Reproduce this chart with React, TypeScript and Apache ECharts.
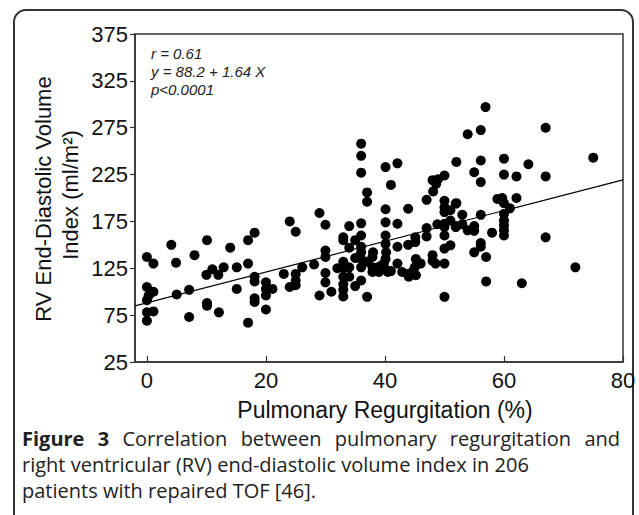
import React, { useEffect, useRef } from "react";
import * as echarts from "echarts";

const xTicks = [0, 20, 40, 60, 80];
const fitIntercept = 88.2;
const fitSlope = 1.64;
const statLines = ["r = 0.61", "y = 88.2 + 1.64 X", "p<0.0001"];

const captionLine1 = [
  { w: "Figure", bold: true },
  { w: "3", bold: true },
  { w: "Correlation", bold: false },
  { w: "between", bold: false },
  { w: "pulmonary", bold: false },
  { w: "regurgitation", bold: false },
  { w: "and", bold: false },
];
const captionLine2 = "right ventricular (RV) end-diastolic volume index in 206";
const captionLine3 = "patients with repaired TOF [46].";

const prValues = [
  0, 1.1, 0, 0.3, 0, 1.1, 0, 1.1, 0,
  4.1, 4.9, 5, 7.1, 7.1, 8, 10.1, 10, 11, 12, 12.9, 10.1, 10.1, 12.1, 14, 15.1, 15.1,
  17, 18.1, 17, 18.1, 18.1, 18.1, 18.1, 17, 20, 20, 20, 21.1, 20,
  23, 24, 25, 24, 25, 25, 25, 26.1, 28.1, 29, 29,
  30, 30, 30, 30, 30, 31, 32,
  33, 33, 33, 33, 33, 33, 33, 33,
  34, 34, 34, 34,
  35, 35, 35,
  36, 36, 36, 36, 36, 36, 36, 36, 36, 36,
  37, 37, 37, 37, 37.9, 37.9, 37.9, 38, 38.2,
  38.8, 39.4, 39, 39.8, 40.1, 40.5, 40.1,
  40.1, 40.1, 40.1, 40.1, 40.1, 40.2, 41, 41,
  42.1, 42.1, 42.1, 42.1,
  42.9, 43.8, 44.6, 45.2, 45, 45.2, 45.4, 43.9, 43.9, 45.1, 45.1, 46, 44,
  47, 47, 47, 48.1, 48, 48, 48.5, 48, 48.6, 48.9, 48.8,
  50, 50, 50, 50, 50, 50, 50, 50, 50, 50,
  51, 51, 51, 51.9, 51.9, 52, 52, 52,
  53, 53, 53.9, 53.9, 55, 55, 55, 55, 56.1, 56.1, 56.1, 56.1, 56.1, 56.1, 56.9, 57, 57, 58,
  58.9, 59.7, 60, 60, 60, 60, 60, 60, 60, 60, 61, 62.1, 62.1, 63, 64.1,
  67, 67, 67, 72, 75,
];

const rvedvValues = [
  137, 130, 105, 96, 91, 100, 78, 79, 69,
  150, 131, 97, 102, 73, 139, 155, 118, 124, 118, 126, 88, 85, 78, 147, 126, 103,
  155, 163, 130, 116, 111, 93, 89, 67, 110, 103, 96, 103, 81,
  119, 175, 164, 105, 107, 112, 119, 126, 129, 184, 96,
  171.5, 144, 137, 120, 110, 100, 125,
  158, 155, 132, 125, 116, 108, 102, 95,
  170, 147, 126, 116,
  155, 136, 106,
  258, 245, 227, 173, 160, 148, 142, 135, 126, 112,
  206, 196, 94.5, 132, 137, 126, 121, 142, 125,
  126, 128, 121, 130, 124, 121, 135,
  233, 188, 174, 160, 151, 142, 214, 122,
  237, 172.5, 148, 130,
  121, 119, 121, 117.6, 126, 135, 130, 188.5, 150, 158, 153, 130, 116,
  198, 168, 159, 207, 139, 133, 130, 219, 215, 220, 172,
  224, 197, 190, 185, 169, 160, 146, 130, 94.5, 172.5,
  187, 176, 149.5, 194, 169, 238.5, 194.5, 170,
  182, 172, 268, 165.5, 227.5, 170, 165, 142, 272.5, 240, 217, 182, 152, 148, 297, 137, 111, 163,
  199, 200, 194.5, 242, 225, 183, 176, 171, 165.5, 160, 189, 223, 200, 109, 236,
  275, 223, 158, 126, 243,
];

const xMin = -2;
const xMax = 80;

const capFont = "'Open Sans', sans-serif";
const capSize = 20;

function measure(text: string, bold: boolean) {
  const c = document.createElement("canvas").getContext("2d");
  if (!c) return text.length * 9;
  c.font = `${bold ? "bold " : ""}${capSize}px 'Open Sans', sans-serif`;
  return c.measureText(text).width;
}

export default function App() {
  const ref = useRef<HTMLDivElement>(null);
  useEffect(() => {
    if (!ref.current) return;
    const chart = echarts.init(ref.current, null, { renderer: "svg" });
    const points = prValues.map((x, i) => [x, rvedvValues[i]]);
    const fit = [xMin, xMax].map((x) => [x, fitIntercept + fitSlope * x]);
    const font = "'Liberation Sans', Arial, sans-serif";

    const capLeft = 22;
    const capRight = 620;
    const widths = captionLine1.map((o) => measure(o.w, o.bold));
    const total = widths.reduce((a, b) => a + b, 0);
    const gap = (capRight - capLeft - total) / (captionLine1.length - 1);
    let cx = capLeft;
    const line1Graphics = captionLine1.map((o, i) => {
      const g = {
        type: "text",
        x: cx,
        y: 438,
        style: {
          text: o.w,
          fontFamily: capFont,
          fontSize: capSize,
          fontWeight: o.bold ? "bold" : "normal",
          fill: "#222",
          textVerticalAlign: "middle",
        },
      };
      cx += widths[i] + gap;
      return g;
    });

    chart.setOption({
      animation: false,
      backgroundColor: "#ffffff",
      grid: {
        left: 135,
        right: 16,
        top: 34,
        bottom: 153,
        show: true,
        borderColor: "#333",
        borderWidth: 1.5,
        backgroundColor: "transparent",
      },
      xAxis: {
        type: "value",
        min: xMin,
        max: xMax,
        splitLine: { show: false },
        axisLine: { onZero: false, lineStyle: { color: "#333", width: 1.5 } },
        axisTick: {
          show: true,
          inside: true,
          length: 6,
          customValues: xTicks,
          lineStyle: { color: "#333", width: 1.2 },
        },
        axisLabel: {
          customValues: xTicks,
          fontFamily: font,
          fontSize: 22,
          color: "#111",
          margin: 7,
        },
      },
      yAxis: {
        type: "value",
        min: 25,
        max: 375,
        interval: 50,
        splitLine: { show: false },
        axisLine: { show: true, onZero: false, lineStyle: { color: "#333", width: 1.5 } },
        axisTick: { show: true, inside: false, length: 5, lineStyle: { color: "#333", width: 1.2 } },
        axisLabel: { fontFamily: font, fontSize: 22, color: "#111", margin: 7 },
      },
      series: [
        {
          type: "scatter",
          data: points,
          symbol: "circle",
          symbolSize: 10,
          itemStyle: { color: "#000", opacity: 1 },
          z: 3,
        },
        {
          type: "line",
          data: fit,
          symbol: "none",
          lineStyle: { color: "#000", width: 1.2 },
          z: 2,
        },
      ],
      graphic: [
        {
          type: "rect",
          shape: { x: 14, y: 10, width: 619, height: 540, r: 12 },
          style: { fill: "none", stroke: "#333", lineWidth: 2 },
          silent: true,
        },
        ...statLines.map((t, i) => ({
          type: "text",
          x: 151,
          y: 53 + i * 18,
          style: {
            text: t,
            fontFamily: font,
            fontStyle: "italic",
            fontSize: 15,
            fill: "#222",
            textVerticalAlign: "middle",
          },
        })),
        {
          type: "text",
          x: 43,
          y: 199,
          rotation: Math.PI / 2,
          style: {
            text: "RV End-Diastolic Volume",
            fontFamily: font,
            fontSize: 22,
            fill: "#111",
            textAlign: "center",
            textVerticalAlign: "middle",
          },
        },
        {
          type: "text",
          x: 70,
          y: 195,
          rotation: Math.PI / 2,
          style: {
            text: "Index (ml/m²)",
            fontFamily: font,
            fontSize: 22,
            fill: "#111",
            textAlign: "center",
            textVerticalAlign: "middle",
          },
        },
        {
          type: "text",
          x: 385,
          y: 410,
          style: {
            text: "Pulmonary Regurgitation (%)",
            fontFamily: font,
            fontSize: 23,
            fill: "#111",
            textAlign: "center",
            textVerticalAlign: "middle",
          },
        },
        ...line1Graphics,
        {
          type: "text",
          x: capLeft,
          y: 464,
          style: {
            text: captionLine2,
            fontFamily: capFont,
            fontSize: capSize,
            fill: "#222",
            textVerticalAlign: "middle",
          },
        },
        {
          type: "text",
          x: capLeft,
          y: 490,
          style: {
            text: captionLine3,
            fontFamily: capFont,
            fontSize: capSize,
            fill: "#222",
            textVerticalAlign: "middle",
          },
        },
      ],
    });
    return () => chart.dispose();
  }, []);
  return (
    <div
      ref={ref}
      style={{ position: "fixed", left: 0, top: 0, width: 639, height: 515 }}
    />
  );
}
